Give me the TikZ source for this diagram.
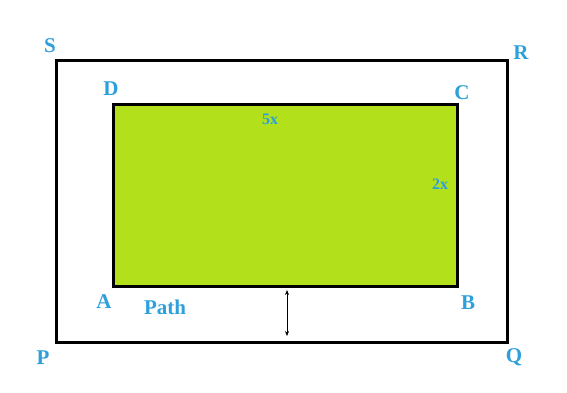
\documentclass[tikz,border=0pt]{standalone}
\usepackage{fontspec}
\setmainfont{Liberation Serif}
\usetikzlibrary{positioning,arrows.meta}
\definecolor{lblue}{RGB}{45,160,220}
\definecolor{lawn}{RGB}{178,224,26}

\begin{document}
\begin{tikzpicture}[x=1pt,y=-1pt]
\useasboundingbox (0,0) rectangle (567,392);
% 1. Koordinaten der Ecken
\coordinate (P) at (56,342);
\coordinate (Q) at (507,342);
\coordinate (R) at (507,60);
\coordinate (S) at (56,60);

\coordinate (A) at (113,286);
\coordinate (B) at (457,286);
\coordinate (C) at (457,104);
\coordinate (D) at (113,104);

\coordinate (w1) at (287,290);
\coordinate (w2) at (287,336);

% 2. Stile
\tikzset{
  corner label/.style={
    text=lblue,
    font=\fontsize{21}{21}\selectfont\bfseries,
    inner sep=0pt
  },
  side label/.style={
    text=lblue,
    font=\fontsize{16}{16}\selectfont\bfseries,
    inner sep=0pt
  },
  frame/.style={
    draw=black,
    line width=3pt,
    line join=miter
  }
}

% 3. Rechtecke
\draw [frame] (P) -- (Q) -- (R) -- (S) -- cycle;
\draw [frame, fill=lawn] (A) -- (B) -- (C) -- (D) -- cycle;
\draw [{Stealth[length=5pt,width=4pt]}-{Stealth[length=5pt,width=4pt]}, line width=0.7pt] (w1) -- (w2);

% 4. Beschriftungen
\node [corner label] (lP) at (43,358) {P};
\node [corner label] (lQ) at (514,357) {Q};
\node [corner label] (lR) at (521,53) {R};
\node [corner label] (lS) at (50,46) {S};
\node [corner label] (lA) at (104,302) {A};
\node [corner label] (lB) at (468,303) {B};
\node [corner label] (lC) at (462,93) {C};
\node [corner label] (lD) at (111,89) {D};
\node [corner label] (lPath) at (165,307) {Path};
\node [side label] (l5x) at (270,119) {5x};
\node [side label] (l2x) at (440,184) {2x};

\end{tikzpicture}
\end{document}
